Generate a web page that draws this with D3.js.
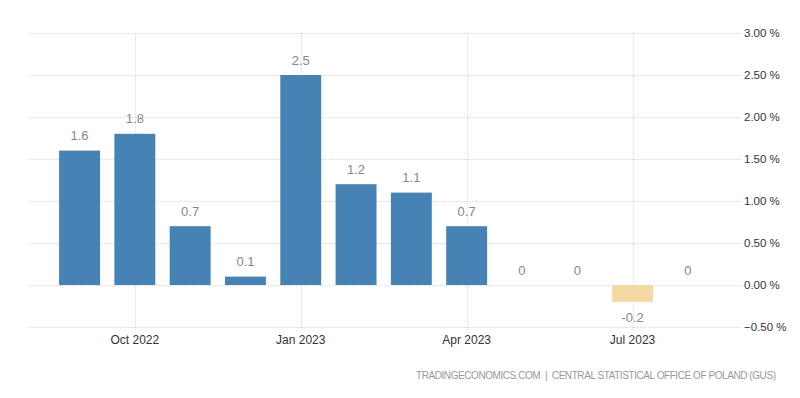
<!DOCTYPE html>
<html>
<head>
<meta charset="utf-8">
<script src="https://cdn.jsdelivr.net/npm/d3@7"></script>
<style>
  body { margin: 0; background: #fff; }
  text { font-family: "Liberation Sans", Arial, sans-serif; }
</style>
</head>
<body>
<div class="chart"></div>
<script>
const months = ["Sep 2022", "Oct 2022", "Nov 2022", "Dec 2022", "Jan 2023", "Feb 2023",
                "Mar 2023", "Apr 2023", "May 2023", "Jun 2023", "Jul 2023", "Aug 2023"]
const values = [1.6, 1.8, 0.7, 0.1, 2.5, 1.2, 1.1, 0.7, 0, 0, -0.2, 0]
const xTickMonths = ["Oct 2022", "Jan 2023", "Apr 2023", "Jul 2023"]
const yTicks = [-0.5, 0, 0.5, 1, 1.5, 2, 2.5, 3]
const source = "TRADINGECONOMICS.COM  |  CENTRAL STATISTICAL OFFICE OF POLAND (GUS)"

const width = 800
const height = 398

const svg = d3.select(".chart")
    .append("svg")
    .attr("width", width)
    .attr("height", height)

const x = d3.scaleBand()
    .domain(months)
    .range([51.9, 715.5])
    .paddingInner(0.26)
    .paddingOuter(0.13)

const y = d3.scaleLinear()
    .domain([-0.5, 3])
    .range([327, 33])

// horizontal grid
svg.append("g")
    .selectAll("line")
    .data(yTicks)
    .join("line")
    .attr("x1", 28)
    .attr("x2", 742)
    .attr("y1", d => Math.round(y(d)) + 0.5)
    .attr("y2", d => Math.round(y(d)) + 0.5)
    .attr("stroke", "#d9d9d9")
    .attr("stroke-dasharray", "1,1")

// vertical grid at the month ticks
svg.append("g")
    .selectAll("line")
    .data(xTickMonths)
    .join("line")
    .attr("x1", d => Math.round(x(d) + x.bandwidth() / 2) + 0.5)
    .attr("x2", d => Math.round(x(d) + x.bandwidth() / 2) + 0.5)
    .attr("y1", 33)
    .attr("y2", 331)
    .attr("stroke", "#d9d9d9")
    .attr("stroke-dasharray", "1,1")

// y labels
svg.append("g")
    .selectAll("text")
    .data(yTicks)
    .join("text")
    .attr("x", 744)
    .attr("y", d => y(d))
    .attr("dy", "0.35em")
    .attr("font-size", 11.5)
    .attr("fill", "#333")
    .text(d => d3.format(".2f")(d) + " %")

// x labels
svg.append("g")
    .selectAll("text")
    .data(xTickMonths)
    .join("text")
    .attr("x", d => x(d) + x.bandwidth() / 2)
    .attr("y", 340)
    .attr("dy", "0.35em")
    .attr("text-anchor", "middle")
    .attr("font-size", 12)
    .attr("fill", "#333")
    .text(d => d)

// bars
svg.append("g")
    .selectAll("rect")
    .data(months)
    .join("rect")
    .attr("x", d => x(d))
    .attr("width", x.bandwidth())
    .attr("y", (d, i) => y(Math.max(0, values[i])))
    .attr("height", (d, i) => Math.abs(y(values[i]) - y(0)))
    .attr("fill", (d, i) => values[i] < 0 ? "#f5d9a4" : "#4682b4")

// value labels
svg.append("g")
    .selectAll("text")
    .data(months)
    .join("text")
    .attr("x", d => x(d) + x.bandwidth() / 2)
    .attr("y", (d, i) => values[i] < 0 ? y(values[i]) + 16 : y(values[i]) - 15)
    .attr("dy", "0.35em")
    .attr("text-anchor", "middle")
    .attr("font-size", 13)
    .attr("fill", "#888")
    .text((d, i) => values[i])

// source
svg.append("text")
    .attr("x", 776)
    .attr("y", 375)
    .attr("dy", "0.35em")
    .attr("text-anchor", "end")
    .attr("font-size", 10)
    .attr("fill", "#999")
    .attr("textLength", 360)
    .attr("lengthAdjust", "spacing")
    .style("white-space", "pre")
    .text(source)
</script>
</body>
</html>
